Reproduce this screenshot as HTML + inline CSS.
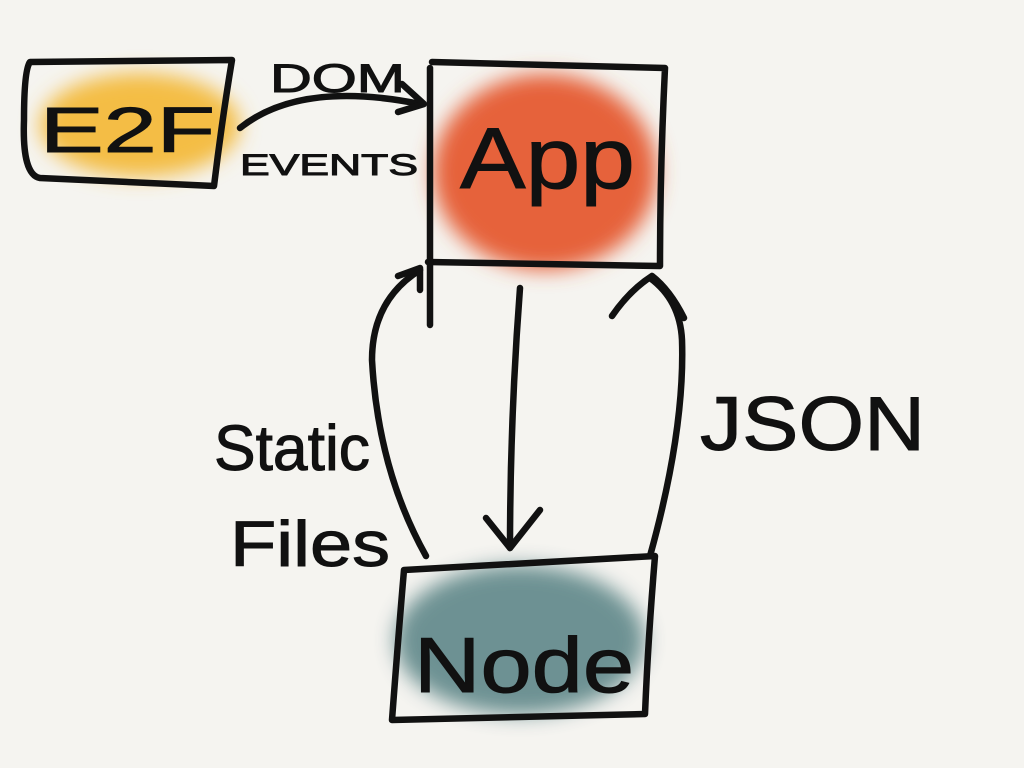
<!DOCTYPE html>
<html><head><meta charset="utf-8"><style>
html,body{margin:0;padding:0;background:#f5f4f0;}
svg{display:block}
text{font-family:"Liberation Sans",sans-serif;fill:#111;}
</style></head><body>
<svg width="1024" height="768" viewBox="0 0 1024 768" xmlns="http://www.w3.org/2000/svg">
<defs>
<filter id="blur" x="-30%" y="-30%" width="160%" height="160%"><feGaussianBlur stdDeviation="10"/></filter>
</defs>
<rect width="1024" height="768" fill="#f5f4f0"/>
<ellipse cx="140" cy="125" rx="100" ry="52" fill="#f4bd45" filter="url(#blur)"/>
<ellipse cx="545" cy="172" rx="112" ry="98" fill="#e6623a" filter="url(#blur)"/>
<ellipse cx="520" cy="640" rx="125" ry="75" fill="#5e8789" filter="url(#blur)" opacity="0.9"/>
<g fill="none" stroke="#111" stroke-width="6.5" stroke-linecap="round" stroke-linejoin="round">
<path d="M30 62 L232 60 Q222 120 214 186 L40 178 Q22 175 24 120 Q24 70 30 62 Z"/>
<path d="M432 62 L665 68 Q660 170 660 266 L428 262"/>
<path d="M430 68 L430 325"/>
<path d="M404 570 L655 556 Q648 640 645 714 L392 720 Q398 640 404 570 Z"/>
<path d="M240 128 Q300 80 420 104"/>
<path d="M402 84 L424 104 L398 112"/>
<path d="M426 556 Q378 470 372 360 Q372 300 420 270"/>
<path d="M398 276 L420 268 L420 290"/>
<path d="M520 288 Q510 420 510 548"/>
<path d="M486 518 L510 548 L540 510"/>
<path d="M650 556 Q685 430 682 340 Q680 300 650 278"/>
<path d="M612 316 Q630 290 652 276 Q670 290 684 318"/>
</g>
<g stroke="#111" stroke-width="1">
<text x="40" y="152" font-size="64" textLength="175" lengthAdjust="spacingAndGlyphs">E2F</text>
<text x="270" y="92" font-size="40" textLength="135" lengthAdjust="spacingAndGlyphs">DOM</text>
<text x="240" y="175" font-size="30" textLength="178" lengthAdjust="spacingAndGlyphs">EVENTS</text>
<text x="460" y="188" font-size="86" textLength="175" lengthAdjust="spacingAndGlyphs">App</text>
<text x="214" y="470" font-size="64" textLength="156" lengthAdjust="spacingAndGlyphs">Static</text>
<text x="230" y="566" font-size="64" textLength="160" lengthAdjust="spacingAndGlyphs">Files</text>
<text x="700" y="450" font-size="76" textLength="225" lengthAdjust="spacingAndGlyphs">JSON</text>
<text x="414" y="692" font-size="78" textLength="220" lengthAdjust="spacingAndGlyphs">Node</text>
</g>
</svg>
</body></html>
